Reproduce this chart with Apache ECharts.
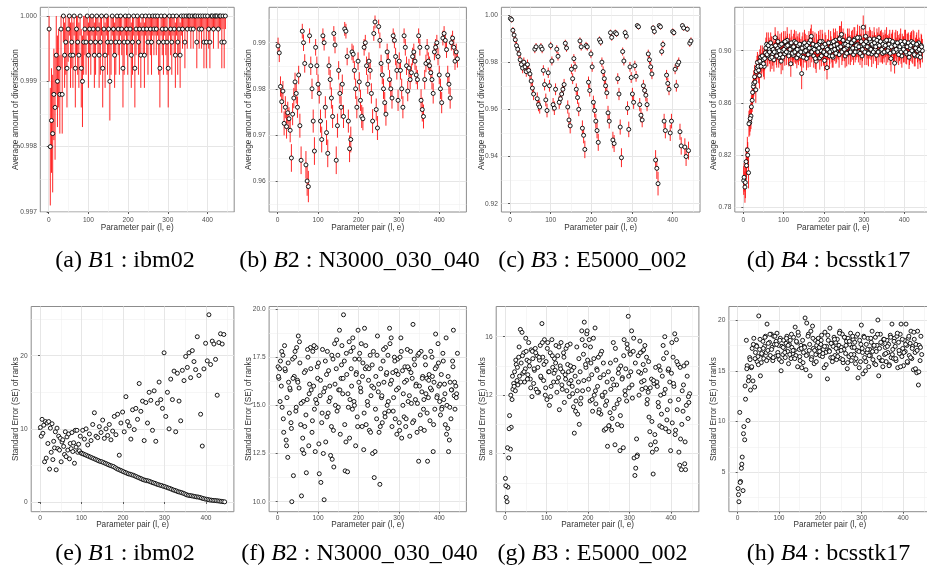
<!DOCTYPE html>
<html><head><meta charset="utf-8">
<script src="https://cdn.jsdelivr.net/npm/echarts@6/dist/echarts.min.js"></script>
<style>html,body{margin:0;padding:0;background:#fff}#c{width:927px;height:572px}</style>
</head><body><div id="c"></div>
<script>
// ---------- DATA ----------
// Top row: average amount of diversification (x = parameter pair 1,4,7,...,445)
const divA = [
0.9998,0.9980,0.9984,0.9982,0.9988,0.9986,0.9994,0.9990,0.9992,0.9988,
0.9998,0.9988,1.0000,0.9994,0.9996,0.9992,0.9998,1.0000,0.9994,0.9996,
0.9994,1.0000,0.9992,0.9998,0.9996,0.9994,1.0000,0.9992,0.9990,0.9996,
0.9998,0.9996,1.0000,0.9994,0.9998,0.9996,1.0000,0.9998,0.9994,0.9996,
1.0000,0.9998,0.9994,0.9996,1.0000,0.9992,0.9998,0.9994,1.0000,0.9996,
0.9998,0.9990,0.9996,1.0000,0.9998,0.9994,0.9996,1.0000,0.9998,0.9996,
1.0000,0.9998,0.9992,0.9996,1.0000,0.9998,0.9996,1.0000,0.9998,0.9994,
0.9996,1.0000,0.9992,0.9998,1.0000,0.9996,0.9998,0.9994,1.0000,0.9998,
0.9994,1.0000,0.9998,0.9996,1.0000,0.9998,0.9996,1.0000,0.9998,1.0000,
0.9998,1.0000,0.9996,0.9992,1.0000,0.9998,0.9996,1.0000,0.9998,0.9996,
0.9992,1.0000,0.9998,0.9996,1.0000,0.9998,0.9994,1.0000,0.9996,0.9998,
0.9994,1.0000,0.9998,1.0000,0.9996,1.0000,0.9998,1.0000,1.0000,0.9998,
1.0000,0.9998,1.0000,1.0000,0.9996,1.0000,0.9998,1.0000,0.9998,1.0000,
0.9996,1.0000,0.9996,1.0000,0.9998,0.9996,1.0000,1.0000,0.9998,1.0000,
1.0000,1.0000,0.9998,1.0000,1.0000,0.9996,1.0000,0.9996,1.0000];
const errA = [
0.0008,0.0009,0.0008,0.0009,0.0007,0.0008,0.0006,0.0007,0.0006,0.0006,
0.0006,0.0006,0.0004,0.0005,0.0005,0.0006,0.0005,0.0003,0.0005,0.0004,
0.0005,0.0003,0.0006,0.0004,0.0005,0.0005,0.0003,0.0006,0.0007,0.0005,
0.0004,0.0005,0.0003,0.0005,0.0004,0.0005,0.0003,0.0004,0.0005,0.0005,
0.0003,0.0004,0.0005,0.0005,0.0003,0.0006,0.0004,0.0005,0.0003,0.0005,
0.0004,0.0006,0.0005,0.0003,0.0004,0.0005,0.0005,0.0003,0.0004,0.0005,
0.0003,0.0004,0.0006,0.0005,0.0003,0.0004,0.0005,0.0003,0.0004,0.0005,
0.0005,0.0003,0.0006,0.0004,0.0003,0.0005,0.0004,0.0005,0.0003,0.0004,
0.0005,0.0003,0.0004,0.0005,0.0003,0.0004,0.0005,0.0003,0.0004,0.0003,
0.0004,0.0003,0.0005,0.0006,0.0003,0.0004,0.0005,0.0003,0.0004,0.0005,
0.0006,0.0003,0.0004,0.0005,0.0003,0.0004,0.0005,0.0003,0.0005,0.0004,
0.0005,0.0003,0.0003,0.0002,0.0004,0.0002,0.0003,0.0002,0.0002,0.0003,
0.0002,0.0003,0.0002,0.0002,0.0004,0.0002,0.0003,0.0002,0.0003,0.0002,
0.0004,0.0002,0.0004,0.0002,0.0003,0.0004,0.0002,0.0002,0.0003,0.0002,
0.0002,0.0002,0.0003,0.0002,0.0002,0.0004,0.0002,0.0004,0.0002];
const divB = [
0.9893,0.9878,0.9805,0.9772,0.9795,0.9725,0.9760,0.9718,0.9748,0.9735,
0.9710,0.9650,0.9745,0.9780,0.9815,0.9790,0.9760,0.9830,0.9720,0.9645,
0.9925,0.9900,0.9855,0.9635,0.9600,0.9588,0.9915,0.9850,0.9800,0.9730,
0.9665,0.9890,0.9850,0.9810,0.9790,0.9730,0.9690,0.9915,0.9900,0.9760,
0.9705,0.9660,0.9850,0.9820,0.9780,0.9740,0.9920,0.9895,0.9645,0.9720,
0.9840,0.9790,0.9760,0.9810,0.9740,0.9930,0.9925,0.9870,0.9730,0.9670,
0.9690,0.9880,0.9875,0.9840,0.9800,0.9760,0.9860,0.9815,0.9775,0.9740,
0.9735,0.9890,0.9900,0.9850,0.9810,0.9860,0.9840,0.9790,0.9730,0.9920,
0.9945,0.9755,0.9715,0.9935,0.9905,0.9855,0.9830,0.9800,0.9770,0.9745,
0.9880,0.9860,0.9820,0.9800,0.9780,0.9915,0.9905,0.9870,0.9840,0.9775,
0.9860,0.9840,0.9800,0.9760,0.9915,0.9890,0.9850,0.9795,0.9845,0.9820,
0.9835,0.9870,0.9880,0.9860,0.9830,0.9820,0.9915,0.9890,0.9775,0.9755,
0.9740,0.9820,0.9855,0.9890,0.9860,0.9850,0.9835,0.9820,0.9790,0.9880,
0.9890,0.9900,0.9870,0.9830,0.9800,0.9770,0.9910,0.9920,0.9905,0.9885,
0.9830,0.9810,0.9780,0.9900,0.9910,0.9890,0.9860,0.9880,0.9865];
const errB = [
0.0018,0.0020,0.0022,0.0024,0.0022,0.0026,0.0024,0.0026,0.0024,0.0025,
0.0026,0.0030,0.0024,0.0022,0.0020,0.0022,0.0023,0.0020,0.0026,0.0030,
0.0016,0.0018,0.0020,0.0030,0.0032,0.0034,0.0016,0.0020,0.0022,0.0025,
0.0030,0.0018,0.0020,0.0021,0.0022,0.0025,0.0028,0.0016,0.0017,0.0024,
0.0027,0.0030,0.0020,0.0021,0.0023,0.0025,0.0016,0.0018,0.0030,0.0026,
0.0020,0.0022,0.0024,0.0021,0.0025,0.0015,0.0016,0.0019,0.0025,0.0029,
0.0028,0.0018,0.0019,0.0020,0.0022,0.0024,0.0019,0.0021,0.0023,0.0025,
0.0025,0.0018,0.0017,0.0020,0.0021,0.0019,0.0020,0.0022,0.0026,0.0016,
0.0014,0.0024,0.0026,0.0015,0.0017,0.0019,0.0020,0.0022,0.0023,0.0025,
0.0018,0.0019,0.0021,0.0022,0.0023,0.0016,0.0017,0.0019,0.0020,0.0023,
0.0019,0.0020,0.0022,0.0024,0.0016,0.0018,0.0020,0.0022,0.0020,0.0021,
0.0020,0.0019,0.0018,0.0019,0.0020,0.0021,0.0016,0.0018,0.0024,0.0026,
0.0026,0.0021,0.0019,0.0018,0.0019,0.0020,0.0020,0.0021,0.0022,0.0018,
0.0018,0.0017,0.0019,0.0020,0.0022,0.0023,0.0016,0.0016,0.0017,0.0018,
0.0020,0.0021,0.0023,0.0017,0.0016,0.0018,0.0019,0.0018,0.0019];
const divC = [
0.9985,0.9980,0.9935,0.9915,0.9895,0.9870,0.9855,0.9835,0.9810,0.9790,
0.9775,0.9800,0.9780,0.9760,0.9790,0.9765,0.9750,0.9720,0.9690,0.9665,
0.9855,0.9865,0.9645,0.9620,0.9610,0.9865,0.9855,0.9765,0.9705,0.9640,
0.9595,0.9755,0.9700,0.9870,0.9805,0.9620,0.9605,0.9685,0.9855,0.9825,
0.9630,0.9645,0.9665,0.9685,0.9705,0.9880,0.9860,0.9610,0.9555,0.9530,
0.9770,0.9730,0.9815,0.9780,0.9685,0.9650,0.9600,0.9890,0.9865,0.9520,
0.9490,0.9430,0.9870,0.9865,0.9715,0.9680,0.9835,0.9780,0.9630,0.9595,
0.9550,0.9510,0.9460,0.9895,0.9885,0.9800,0.9760,0.9730,0.9700,0.9670,
0.9585,0.9550,0.9925,0.9905,0.9470,0.9455,0.9925,0.9920,0.9730,0.9665,
0.9525,0.9395,0.9845,0.9805,0.9925,0.9910,0.9605,0.9515,0.9780,0.9735,
0.9665,0.9630,0.9785,0.9740,0.9955,0.9950,0.9620,0.9575,0.9555,0.9700,
0.9680,0.9660,0.9620,0.9835,0.9810,0.9780,0.9750,0.9945,0.9930,0.9385,
0.9350,0.9285,0.9955,0.9950,0.9845,0.9875,0.9550,0.9510,0.9745,0.9710,
0.9685,0.9500,0.9550,0.9930,0.9925,0.9770,0.9700,0.9790,0.9800,0.9505,
0.9445,0.9955,0.9945,0.9440,0.9400,0.9940,0.9425,0.9880,0.9890];
const errC = [
0.0010,0.0012,0.0014,0.0015,0.0016,0.0018,0.0018,0.0019,0.0020,0.0021,
0.0022,0.0020,0.0021,0.0022,0.0021,0.0022,0.0023,0.0024,0.0025,0.0026,
0.0017,0.0016,0.0027,0.0028,0.0028,0.0016,0.0017,0.0022,0.0025,0.0027,
0.0029,0.0022,0.0025,0.0016,0.0019,0.0028,0.0029,0.0025,0.0017,0.0018,
0.0028,0.0027,0.0026,0.0025,0.0024,0.0015,0.0016,0.0028,0.0031,0.0032,
0.0021,0.0023,0.0019,0.0021,0.0025,0.0027,0.0029,0.0015,0.0016,0.0033,
0.0034,0.0037,0.0016,0.0016,0.0024,0.0026,0.0018,0.0021,0.0028,0.0029,
0.0031,0.0033,0.0036,0.0014,0.0015,0.0020,0.0022,0.0023,0.0025,0.0026,
0.0030,0.0031,0.0013,0.0014,0.0035,0.0036,0.0013,0.0013,0.0023,0.0026,
0.0032,0.0040,0.0017,0.0019,0.0013,0.0014,0.0029,0.0033,0.0021,0.0023,
0.0026,0.0028,0.0021,0.0023,0.0011,0.0012,0.0028,0.0030,0.0031,0.0025,
0.0025,0.0026,0.0028,0.0018,0.0019,0.0021,0.0022,0.0012,0.0013,0.0042,
0.0045,0.0050,0.0011,0.0012,0.0017,0.0016,0.0031,0.0033,0.0022,0.0024,
0.0025,0.0034,0.0031,0.0013,0.0013,0.0021,0.0025,0.0020,0.0020,0.0034,
0.0037,0.0011,0.0012,0.0037,0.0040,0.0012,0.0038,0.0015,0.0015];
const divD = [ // x = 1,4,...,445
0.8005,0.7955,0.8150,0.8240,0.8065,0.8450,0.8500,0.8620,0.8725,0.8800,
0.8700,0.8870,0.8880,0.8810,0.8950,0.8905,0.8930,0.8880,0.8985,0.9050,
0.8960,0.9010,0.8940,0.9030,0.8975,0.8930,0.9100,0.8990,0.9020,0.8950,
0.9040,0.8920,0.9000,0.9060,0.8975,0.9030,0.9080,0.8985,0.9050,0.8900,
0.9020,0.8965,0.9070,0.9000,0.8945,0.9040,0.9010,0.8960,0.8825,0.9050,
0.8990,0.9030,0.8940,0.9010,0.9060,0.8975,0.9110,0.9020,0.8960,0.9040,
0.8920,0.9005,0.9050,0.8945,0.9000,0.9070,0.8985,0.8925,0.9030,0.8870,
0.9010,0.8960,0.9060,0.9000,0.8950,0.9040,0.9080,0.8990,0.9030,0.8970,
0.9100,0.9125,0.9000,0.9050,0.8960,0.9020,0.9070,0.8985,0.9040,0.9005,
0.9060,0.8970,0.9090,0.9020,0.9050,0.8990,0.9100,0.9030,0.8960,0.9180,
0.9040,0.9110,0.8990,0.9060,0.9020,0.9070,0.8975,0.9040,0.9090,0.9010,
0.8965,0.9050,0.9100,0.9000,0.9060,0.8980,0.9030,0.9070,0.8990,0.9040,
0.9020,0.9080,0.8940,0.9050,0.9000,0.8905,0.9060,0.8995,0.9040,0.9010,
0.9070,0.8960,0.9030,0.9000,0.9060,0.8975,0.9040,0.8950,0.9020,0.9070,
0.8990,0.9050,0.8960,0.9030,0.9000,0.9060,0.8975,0.9040,0.9000];
const errD = [
0.011,0.012,0.011,0.010,0.012,0.010,0.010,0.009,0.009,0.009,
0.010,0.009,0.009,0.010,0.009,0.008,0.009,0.010,0.008,0.009,
0.008,0.009,0.010,0.008,0.009,0.009,0.008,0.010,0.009,0.008,
0.009,0.010,0.008,0.009,0.009,0.008,0.010,0.009,0.008,0.010,
0.009,0.008,0.009,0.010,0.008,0.009,0.009,0.008,0.012,0.009,
0.008,0.010,0.009,0.008,0.009,0.010,0.009,0.008,0.009,0.010,
0.009,0.008,0.010,0.009,0.008,0.009,0.010,0.008,0.009,0.009,
0.008,0.010,0.009,0.009,0.008,0.010,0.009,0.008,0.009,0.010,
0.009,0.010,0.008,0.009,0.009,0.008,0.010,0.009,0.008,0.009,
0.010,0.008,0.009,0.009,0.010,0.008,0.009,0.010,0.009,0.009,
0.008,0.009,0.010,0.009,0.008,0.009,0.010,0.008,0.009,0.009,
0.010,0.009,0.008,0.009,0.010,0.008,0.009,0.009,0.010,0.008,
0.009,0.008,0.010,0.009,0.009,0.008,0.010,0.009,0.008,0.009,
0.010,0.009,0.008,0.009,0.010,0.008,0.009,0.009,0.010,0.008,
0.009,0.010,0.008,0.009,0.009,0.010,0.008,0.009,0.009];
const divD2 = [ // x = 2,5,...,443
0.8030,0.7990,0.8120,0.8200,0.8440,0.8480,0.8570,0.8680,0.8750,0.8760,
0.8840,0.8910,0.8850,0.8920,0.8880,0.8960,0.8900,0.8940,0.9020,0.8970,
0.9040,0.8990,0.9060,0.8950,0.9010,0.8990,0.9040,0.8960,0.9070,0.9000,
0.8970,0.9050,0.8950,0.9010,0.9070,0.8990,0.9040,0.8960,0.9010,0.9060,
0.8980,0.9030,0.8990,0.9060,0.9010,0.8970,0.9050,0.8990,0.9020,0.8950,
0.9060,0.9000,0.9040,0.8970,0.9020,0.9080,0.8990,0.9050,0.9010,0.8940,
0.9040,0.8990,0.9020,0.9070,0.8960,0.9030,0.8990,0.9050,0.8970,0.9010,
0.9060,0.8990,0.9030,0.8960,0.9070,0.9010,0.8980,0.9050,0.9020,0.9090,
0.9030,0.8990,0.9080,0.9010,0.9050,0.8980,0.9040,0.9090,0.8990,0.9060,
0.9020,0.9080,0.8990,0.9040,0.9100,0.9030,0.8980,0.9070,0.9010,0.9050,
0.8990,0.9070,0.9030,0.8980,0.9090,0.9010,0.9050,0.8990,0.9060,0.9030,
0.9080,0.8990,0.9040,0.9070,0.9010,0.9050,0.8990,0.9040,0.9080,0.9000,
0.9050,0.8980,0.9030,0.9070,0.8990,0.9040,0.9010,0.9060,0.8970,0.9030,
0.8990,0.9050,0.9010,0.9070,0.8990,0.9030,0.9060,0.8980,0.9040,0.9000,
0.9060,0.8970,0.9020,0.9050,0.8960,0.9010,0.8950,0.9030];
const errD2 = [
0.011,0.012,0.011,0.010,0.010,0.010,0.009,0.009,0.010,0.009,
0.009,0.008,0.010,0.009,0.009,0.008,0.010,0.009,0.008,0.009,
0.010,0.009,0.008,0.009,0.010,0.008,0.009,0.009,0.008,0.010,
0.008,0.009,0.010,0.009,0.008,0.010,0.009,0.008,0.009,0.010,
0.009,0.010,0.008,0.009,0.010,0.008,0.009,0.010,0.009,0.008,
0.010,0.009,0.008,0.010,0.009,0.009,0.008,0.010,0.009,0.008,
0.009,0.008,0.010,0.009,0.008,0.010,0.009,0.009,0.010,0.008,
0.010,0.009,0.008,0.009,0.010,0.009,0.008,0.010,0.009,0.010,
0.008,0.010,0.009,0.009,0.008,0.010,0.009,0.008,0.010,0.009,
0.009,0.010,0.008,0.009,0.010,0.008,0.009,0.010,0.009,0.008,
0.010,0.008,0.009,0.010,0.009,0.008,0.010,0.009,0.008,0.009,
0.009,0.010,0.009,0.008,0.010,0.009,0.008,0.009,0.010,0.009,
0.008,0.009,0.010,0.009,0.008,0.010,0.009,0.009,0.008,0.010,
0.009,0.008,0.010,0.009,0.009,0.010,0.008,0.009,0.010,0.009,
0.010,0.009,0.008,0.009,0.010,0.009,0.008,0.009];

// Bottom row: standard error (SE) of ranks
const seE_early = [ // x = 1,3,...,99
10.2,9.0,11.3,9.4,10.5,5.5,11.0,6.0,10.8,8.0,
11.0,4.5,10.1,6.8,10.7,5.8,8.3,7.4,9.6,4.4,
10.1,7.3,9.0,7.1,8.7,5.5,8.2,8.5,7.6,6.5,
9.6,6.2,8.9,7.1,9.3,5.9,8.0,7.3,9.5,6.9,
8.1,5.3,9.8,7.5,9.8,6.8,7.9,7.0,9.0,6.7];
const seE_low = [ // x = 101,105,...,445
6.65,6.55,6.45,6.35,6.25,6.15,6.05,5.95,5.85,5.75,
5.65,5.55,5.50,5.40,5.30,5.20,5.10,5.00,4.92,4.85,
4.70,4.55,4.45,4.35,4.25,4.15,4.05,3.95,3.85,3.80,
3.72,3.65,3.55,3.45,3.35,3.25,3.15,3.05,2.98,2.92,
2.88,2.80,2.70,2.62,2.55,2.45,2.38,2.30,2.25,2.15,
2.10,2.00,1.92,1.85,1.75,1.65,1.58,1.50,1.40,1.35,
1.28,1.20,1.10,1.00,0.92,0.88,0.85,0.80,0.75,0.70,
0.68,0.62,0.55,0.48,0.42,0.38,0.33,0.28,0.25,0.22,
0.20,0.18,0.15,0.12,0.08,0.05,0.02];
const seE_high = [ // x = 103,107,...,443
9.8,8.6,10.0,7.8,9.3,8.4,10.6,12.2,9.0,8.8,
10.3,9.5,11.2,8.7,10.0,9.1,10.6,8.5,9.7,11.7,
9.2,12.0,6.4,10.8,12.3,9.6,14.4,11.0,10.4,8.6,
12.6,9.9,12.8,11.3,16.2,12.4,13.8,8.4,13.6,10.8,
15.0,13.9,9.8,15.2,8.3,13.5,16.4,14.0,12.8,20.4,
11.7,15.0,10.0,16.8,14.0,17.9,9.6,17.6,13.8,11.1,
18.0,16.6,19.9,18.4,20.4,17.0,20.7,19.2,18.1,22.6,
17.3,12.0,7.65,18.2,21.7,19.3,25.6,18.8,22.0,21.6,
19.5,14.6,21.8,23.0,21.6,22.9];
const seF = [ // x = 1,3,...,445
17.0,16.4,16.9,17.3,16.0,14.9,17.6,13.6,18.1,16.8,
13.2,15.4,12.3,16.2,14.6,15.8,14.1,10.0,17.4,11.35,
16.5,17.8,14.7,18.0,16.3,18.6,15.9,17.2,14.0,10.3,
12.7,15.2,12.5,13.9,16.8,11.5,15.3,17.5,12.9,16.1,
18.0,15.8,13.6,17.8,16.0,14.8,12.6,18.0,15.1,16.4,
17.2,11.45,15.5,11.0,14.1,17.9,12.5,10.1,15.9,13.1,
16.6,17.8,14.6,15.2,16.0,12.4,13.9,12.2,17.4,11.8,
18.2,15.0,16.9,14.7,17.6,15.8,18.9,13.5,16.4,18.1,
15.6,19.7,17.3,11.6,13.1,16.6,11.55,14.9,18.3,15.3,
17.8,16.0,14.8,18.0,15.2,17.4,12.9,16.7,14.4,18.9,
16.2,17.7,15.9,18.2,13.9,17.2,12.7,19.0,16.9,14.0,
17.0,15.0,16.3,13.7,17.6,15.5,16.0,12.5,17.8,11.25,
12.6,16.5,14.3,18.6,15.7,13.6,10.9,16.9,15.4,14.1,
17.3,16.2,14.6,18.0,16.6,15.0,17.6,14.7,19.0,16.1,
18.5,13.9,16.7,15.4,17.5,14.3,16.8,13.5,17.4,15.9,
14.1,17.5,18.5,13.3,16.8,15.6,14.4,17.0,13.9,16.3,
17.9,15.2,16.9,13.4,17.8,15.1,16.4,19.2,14.2,17.1,
15.3,16.1,13.6,17.6,12.1,16.0,14.5,17.8,15.7,16.5,
14.8,13.7,17.5,15.6,16.4,12.1,15.4,16.6,14.2,17.8,
15.8,16.5,12.6,16.2,14.8,18.7,17.0,15.5,18.2,16.0,
15.2,14.5,16.6,14.9,17.7,15.3,16.1,14.0,18.5,15.0,
13.8,12.6,13.2,16.2,14.3,15.8,17.3,18.9,15.5,14.8,
16.0,15.6,17.7];
const seF2 = [ // x = 2,6,...,442
16.5,15.2,17.8,14.3,16.9,12.9,17.2,15.9,13.8,16.4,
17.5,14.9,16.2,18.3,15.1,13.3,16.7,14.5,17.9,15.6,
16.9,14.2,18.1,15.3,17.0,13.0,16.3,14.6,15.7,17.3,
14.4,16.8,15.4,17.6,13.7,16.1,18.4,14.9,15.8,17.1,
16.4,14.0,17.7,15.6,13.3,16.9,18.5,15.0,16.6,13.9,
17.4,15.7,16.5,14.6,18.1,15.2,16.9,13.6,17.1,15.9,
14.8,17.6,16.1,13.9,15.5,17.9,14.4,16.7,15.2,18.2,
16.3,14.7,17.3,15.8,16.6,13.7,17.8,15.0,16.2,14.3,
17.0,15.5,16.7,14.1,17.4,16.0,15.1,17.7,13.8,16.4,
15.3,17.1,14.6,16.3,15.9,17.5,14.0,16.9,15.4,17.2,
16.1,14.8,17.3,15.6,13.5,16.5,14.9,15.8,17.0,16.2,
15.4];
const seG = [ // x = 1,3,...,445
6.3,5.0,4.7,5.7,7.7,10.6,8.3,9.8,11.7,12.4,
12.8,13.6,12.3,14.1,13.0,12.7,14.6,13.3,16.5,14.2,
16.3,13.5,14.9,12.9,13.8,15.0,14.4,13.4,15.6,14.0,
13.1,15.1,11.9,14.5,12.8,13.7,15.2,12.4,14.7,13.9,
12.2,14.4,15.4,13.2,16.9,14.6,13.0,15.8,12.0,14.3,
11.7,15.6,13.6,11.3,14.9,12.6,15.8,13.9,12.9,14.5,
13.7,15.4,12.2,14.7,13.2,11.0,14.0,15.6,12.7,13.6,
14.9,11.5,13.4,15.2,12.3,14.1,13.6,11.9,15.5,13.0,
13.7,12.1,11.2,9.4,13.3,11.6,15.3,10.7,12.9,10.0,
13.6,11.8,16.4,12.3,14.8,17.0,15.4,13.9,16.2,14.4,
12.4,15.8,11.6,14.2,13.4,10.9,15.9,12.0,16.6,11.4,
13.8,12.6,14.6,11.0,13.2,10.7,15.0,11.9,14.2,9.6,
12.2,9.7,11.6,8.5,13.6,9.9,10.8,12.4,9.6,13.1,
15.6,11.1,8.6,14.4,12.7,10.0,13.5,11.7,8.2,14.0,
9.9,13.2,8.4,15.8,12.3,13.8,11.6,15.2,17.4,12.5,
14.9,13.6,16.4,11.8,15.0,7.7,6.5,7.0,9.0,7.9,
14.7,12.0,15.7,13.5,12.9,15.0,14.1,13.0,15.4,12.5,
14.6,11.7,12.2,10.5,9.5,8.6,13.1,8.1,6.6,12.8,
9.3,13.9,8.3,12.6,11.5,14.0,9.9,12.0,10.7,13.3,
15.4,12.1,16.0,9.7,14.9,11.0,13.7,9.5,12.9,8.2,
13.5,10.1,14.6,12.6,16.2,9.6,15.8,11.0,14.1,8.1,
7.2,9.0,6.9,12.3,10.9,14.0,7.3,6.9,11.3,13.3,
10.4,11.5,12.1];
const seG2 = [ // x = 2,6,...,442
5.8,8.4,9.7,12.0,13.3,12.6,14.4,13.9,15.3,12.9,
14.7,13.6,15.9,13.1,14.3,12.5,15.0,13.8,14.9,12.2,
14.6,13.3,15.6,14.1,12.5,15.2,13.6,11.9,14.7,13.5,
14.2,12.9,15.3,13.8,12.4,14.6,13.1,15.4,12.8,14.0,
12.6,13.9,10.9,12.3,14.5,11.4,15.8,13.0,14.1,16.4,
13.1,15.3,11.7,14.5,12.3,13.7,10.8,14.8,12.0,13.4,
11.3,12.9,9.9,14.2,10.4,12.7,15.2,11.4,13.8,10.6,
13.1,14.7,12.0,15.5,13.3,14.8,12.7,15.9,14.2,7.8,
13.6,14.9,12.4,15.1,13.7,11.4,14.3,12.5,10.2,13.0,
8.8,12.9,11.2,13.7,9.8,14.5,12.4,10.3,13.8,11.6,
15.6,12.8,9.3,14.3,11.7,13.9,10.0,12.7,8.8,14.2,
11.9];
const seH = [ // x = 1,3,...,445
3.4,2.1,10.9,4.1,5.4,6.5,3.2,9.5,8.2,12.2,
18.0,15.5,10.1,14.4,16.3,13.1,15.3,17.2,14.0,18.2,
13.4,16.8,17.5,15.9,16.4,20.4,17.1,14.5,15.8,16.6,
17.9,16.2,17.4,18.4,16.8,19.6,17.0,16.3,17.8,16.5,
18.6,17.3,16.0,18.4,17.6,16.4,17.9,18.7,16.8,17.5,
16.1,18.2,15.0,17.4,16.6,18.0,17.2,16.3,17.7,18.4,
16.9,15.7,17.6,18.0,16.2,17.3,16.7,18.3,17.0,19.3,
16.5,17.8,15.4,18.5,17.1,16.0,17.5,15.3,18.0,16.8,
17.4,20.2,15.1,19.7,16.6,18.6,17.0,14.5,18.9,16.3,
19.4,17.2,15.7,18.0,16.6,17.5,16.9,18.2,17.3,16.5,
17.6,18.5,16.4,17.1,15.3,18.8,16.8,17.4,14.2,18.0,
17.0,19.2,16.3,17.7,15.9,17.4,18.3,16.5,17.8,16.1,
18.1,16.9,17.5,18.9,16.2,17.3,18.6,15.8,17.1,18.3,
16.7,17.9,15.2,18.2,16.4,17.6,18.7,16.0,17.3,18.1,
16.6,17.8,15.7,18.4,17.0,14.3,16.9,18.0,15.9,19.5,
17.2,14.7,18.4,16.3,15.0,17.6,16.8,18.2,15.4,17.1,
16.5,17.8,18.9,16.1,17.4,15.7,18.3,16.9,17.5,20.0,
14.5,17.2,18.6,16.0,17.7,15.4,18.1,16.6,17.3,15.9,
18.0,16.8,17.6,15.6,18.5,16.3,19.6,17.1,16.2,18.2,
17.4,16.0,18.4,15.3,17.8,16.7,18.6,19.6,16.4,17.2,
15.5,18.0,16.9,19.6,17.5,15.8,18.2,16.5,17.7,18.9,
16.2,17.4,15.1,18.1,16.8,17.6,14.8,18.9,13.6,17.5,
16.0,18.4,16.6];
const seH2 = [ // x = 2,6,...,442
2.8,4.0,5.8,8.8,13.5,15.2,14.0,16.1,15.4,17.6,
16.2,17.4,15.6,18.1,16.7,17.2,18.3,16.0,17.7,18.6,
17.1,16.3,18.4,17.6,16.5,18.0,15.9,17.3,16.8,18.2,
17.5,16.6,18.6,17.0,16.2,17.9,18.8,16.4,17.2,15.8,
17.3,16.5,18.4,17.6,16.1,18.2,17.0,15.9,17.8,16.9,
18.0,16.7,17.4,15.6,18.5,16.9,17.7,16.3,18.1,17.2,
16.4,18.7,17.0,16.1,18.3,17.5,15.8,17.9,16.6,18.4,
17.3,16.2,18.6,15.3,17.6,16.8,18.3,15.9,17.1,16.5,
18.2,16.9,17.5,15.6,18.6,16.3,17.8,16.0,18.1,16.7,
17.4,15.5,18.3,16.6,17.9,16.2,18.7,17.0,15.4,18.1,
16.8,17.6,15.9,18.4,16.3,17.2,18.8,15.2,17.0,14.9,
17.3];

// Axis ticks / labels
const xTicks = [0, 100, 200, 300, 400];
const xMinor = [50, 150, 250, 350, 450];
const yTicksA = [0.997, 0.998, 0.999, 1.000], yMinorA = [0.9975, 0.9985, 0.9995];
const yTicksB = [0.96, 0.97, 0.98, 0.99], yMinorB = [0.955, 0.965, 0.975, 0.985, 0.995];
const yTicksC = [0.92, 0.94, 0.96, 0.98, 1.00], yMinorC = [0.93, 0.95, 0.97, 0.99];
const yTicksD = [0.78, 0.82, 0.86, 0.90], yMinorD = [0.80, 0.84, 0.88, 0.92];
const yTicksE = [0, 10, 20], yMinorE = [5, 15, 25];
const yTicksF = [10, 12.5, 15, 17.5, 20], yMinorF = [11.25, 13.75, 16.25, 18.75];
const yTicksG = [8, 12, 16], yMinorG = [6, 10, 14];
const yTicksH = [5, 10, 15, 20], yMinorH = [2.5, 7.5, 12.5, 17.5];

const xTitle = 'Parameter pair (l, e)';
const yTitleTop = 'Average amount of diversification';
const yTitleBottom = 'Standard Error (SE) of ranks';
const captions = [
  ['(a)', 'B', '1', 'ibm02'], ['(b)', 'B', '2', 'N3000_030_040'],
  ['(c)', 'B', '3', 'E5000_002'], ['(d)', 'B', '4', 'bcsstk17'],
  ['(e)', 'B', '1', 'ibm02'], ['(f)', 'B', '2', 'N3000_030_040'],
  ['(g)', 'B', '3', 'E5000_002'], ['(h)', 'B', '4', 'bcsstk17']];

// ---------- BUILD ----------
function topPoints(vals, errs, start, cap, out) {
  out = out || { pts: [], bars: [] };
  vals.forEach((v, i) => {
    const x = start + 3 * i;
    out.pts.push([x, v]);
    let hi = v + errs[i];
    if (cap != null) hi = Math.min(hi, cap);
    out.bars.push([x, v - errs[i], hi]);
  });
  return out;
}
function seriesPoints(vals, start, step, out) {
  out = out || [];
  vals.forEach((v, i) => out.push([start + step * i, v]));
  return out;
}
const ePts = seriesPoints(seE_high, 103, 4, seriesPoints(seE_low, 101, 4, seriesPoints(seE_early, 1, 2)));
const fPts = seriesPoints(seF2, 2, 4, seriesPoints(seF, 1, 2));
const gPts = seriesPoints(seG2, 2, 4, seriesPoints(seG, 1, 2));
const hPts = seriesPoints(seH2, 2, 4, seriesPoints(seH, 1, 2));

const A = topPoints(divA, errA, 1, 1.0);
const B = topPoints(divB, errB, 1);
const C = topPoints(divC, errC, 1);
const D = topPoints(divD2, errD2, 2, null, topPoints(divD, errD, 1));

const panels = [
  { left: 40.3, top: 7.3, w: 193.9, h: 204.7, ymin: 0.997, ymax: 1.000133, yT: yTicksA, yM: yMinorA, dec: 3, yGap: 20.6, xGap: 11.6, xLm: 4.5, title: yTitleTop, d: A },
  { left: 269.1, top: 7.3, w: 197.3, h: 204.7, ymin: 0.95328, ymax: 0.99768, yT: yTicksB, yM: yMinorB, dec: 2, yGap: 16.1, xGap: 11.6, xLm: 4.5, title: yTitleTop, d: B },
  { left: 501.4, top: 7.3, w: 198.6, h: 204.7, ymin: 0.91648, ymax: 1.00326, yT: yTicksC, yM: yMinorC, dec: 2, yGap: 15.7, xGap: 11.6, xLm: 4.5, title: yTitleTop, d: C },
  { left: 734.8, top: 7.3, w: 196.5, h: 204.7, ymin: 0.7764, ymax: 0.93326, yT: yTicksD, yM: yMinorD, dec: 2, yGap: 17.5, xGap: 11.6, xLm: 4.5, title: yTitleTop, d: D },
  { left: 31.2, top: 306.5, w: 202.7, h: 205.2, ymin: -1.326, ymax: 26.73, yT: yTicksE, yM: yMinorE, dec: 0, yGap: 11.5, xGap: 8.7, xLm: 3, title: yTitleBottom, pts: ePts },
  { left: 269.1, top: 306.5, w: 197.3, h: 205.2, ymin: 9.48, ymax: 20.13, yT: yTicksF, yM: yMinorF, dec: 1, yGap: 16.1, xGap: 8.7, xLm: 3, title: yTitleBottom, pts: fPts },
  { left: 496.2, top: 306.5, w: 202.7, h: 205.2, ymin: 4.02, ymax: 18.07, yT: yTicksG, yM: yMinorG, dec: 0, yGap: 9.2, xGap: 8.7, xLm: 3, title: yTitleBottom, pts: gPts },
  { left: 728.9, top: 306.5, w: 202, h: 205.2, ymin: 1.12, ymax: 21.33, yT: yTicksH, yM: yMinorH, dec: 0, yGap: 10.9, xGap: 8.7, xLm: 3, title: yTitleBottom, pts: hPts }
];

const FONT = '"Liberation Sans", Arial, Helvetica, sans-serif';
const SERIF = '"Liberation Serif", "Times New Roman", serif';
const grids = [], xAxes = [], yAxes = [], series = [];
const majorLine = { show: true, lineStyle: { color: '#e6e6e6', width: 1 } };
const minorLine = { show: true, lineStyle: { color: '#f0f0f0', width: 0.6 } };

panels.forEach((p, k) => {
  grids.push({ left: p.left, top: p.top, width: p.w, height: p.h, show: true, borderColor: '#8c8c8c', borderWidth: 1,
    backgroundColor: 'rgba(0,0,0,0)', containLabel: false, outerBoundsMode: 'none' });
  xAxes.push({ gridIndex: k, type: 'value', min: -21.2, max: 467.2, position: 'bottom',
    axisLine: { show: false },
    axisTick: { show: true, length: 2, lineStyle: { color: '#333', width: 0.8 }, customValues: xTicks },
    axisLabel: { show: true, customValues: xTicks, color: '#4d4d4d', fontSize: 6.6, fontFamily: FONT, margin: p.xLm, formatter: v => String(Math.round(v)) },
    splitLine: majorLine,
    name: xTitle, nameLocation: 'middle', nameGap: p.xGap, nameMoveOverlap: false,
    nameTextStyle: { fontSize: 8.2, color: '#333', fontFamily: FONT } });
  xAxes.push({ gridIndex: k, type: 'value', min: -21.2, max: 467.2, position: 'top',
    axisLine: { show: false }, axisTick: { show: false, customValues: xMinor },
    axisLabel: { show: false, customValues: xMinor }, splitLine: minorLine });
  yAxes.push({ gridIndex: k, type: 'value', min: p.ymin, max: p.ymax, position: 'left',
    axisLine: { show: false },
    axisTick: { show: true, length: 2, lineStyle: { color: '#333', width: 0.8 }, customValues: p.yT },
    axisLabel: { show: true, customValues: p.yT, color: '#4d4d4d', fontSize: 6.6, fontFamily: FONT, margin: 3.5, formatter: v => v.toFixed(p.dec) },
    splitLine: majorLine,
    name: p.title, nameLocation: 'middle', nameGap: p.yGap, nameRotate: 90, nameMoveOverlap: false,
    nameTextStyle: { fontSize: 8.2, color: '#333', fontFamily: FONT } });
  yAxes.push({ gridIndex: k, type: 'value', min: p.ymin, max: p.ymax, position: 'right',
    axisLine: { show: false }, axisTick: { show: false, customValues: p.yM },
    axisLabel: { show: false, customValues: p.yM }, splitLine: minorLine });

  let pts = p.pts;
  if (p.d) {
    pts = p.d.pts;
    series.push({ type: 'custom', xAxisIndex: 2 * k, yAxisIndex: 2 * k, clip: true, silent: true,
      encode: { x: 0, y: [1, 2] }, data: p.d.bars,
      renderItem: (params, api) => {
        const a = api.coord([api.value(0), api.value(1)]);
        const b = api.coord([api.value(0), api.value(2)]);
        return { type: 'line', shape: { x1: a[0], y1: a[1], x2: b[0], y2: b[1] },
          style: { stroke: 'rgba(255,0,0,0.85)', lineWidth: 1 } };
      } });
  }
  series.push({ type: 'scatter', xAxisIndex: 2 * k, yAxisIndex: 2 * k, data: pts, symbol: 'circle', symbolSize: 4,
    clip: true, silent: true, itemStyle: { color: '#ffffff', borderColor: '#000000', borderWidth: 0.9, opacity: 1 } });
});

const capPos = [[125, 261], [359.5, 261], [592.5, 261], [828.5, 261], [125, 554], [359.5, 554], [592.5, 554], [828.5, 554]];
const graphics = captions.map((c, i) => ({
  type: 'text', x: capPos[i][0], y: capPos[i][1], silent: true,
  style: { text: c[0] + ' {i|' + c[1] + '}' + c[2] + ' : ' + c[3], fontFamily: SERIF, fontSize: 24, fill: '#000',
    align: 'center', verticalAlign: 'middle', textAlign: 'center', textVerticalAlign: 'middle',
    rich: { i: { fontStyle: 'italic', fontFamily: SERIF, fontSize: 24, fill: '#000' } } }
}));

const chart = echarts.init(document.getElementById('c'), null, { renderer: 'canvas', width: 927, height: 572 });
chart.setOption({ animation: false, backgroundColor: '#ffffff', grid: grids, xAxis: xAxes, yAxis: yAxes, series: series, graphic: graphics });
</script></body></html>
